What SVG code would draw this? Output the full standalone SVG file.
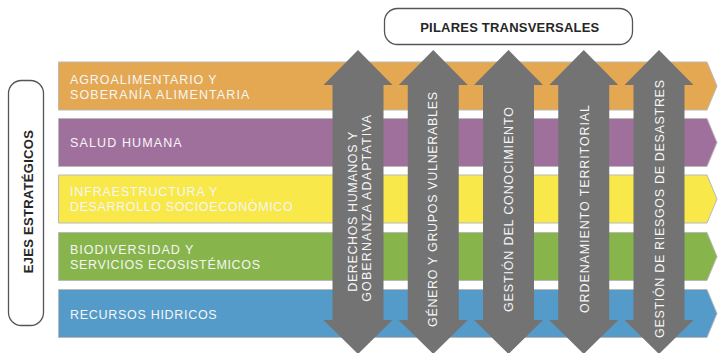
<svg xmlns="http://www.w3.org/2000/svg" width="718" height="353" viewBox="0 0 718 353">
<style>
  .band { stroke: #b9b9b9; stroke-width: 1; }
  .pillar { fill: #737373; }
  .wt { fill: #f6f6f6; font-family: "Liberation Sans", Arial, sans-serif; font-size: 12.5px; }
  .dk { fill: #262626; font-family: "Liberation Sans", Arial, sans-serif; font-size: 13px; font-weight: bold; }
  .box { fill: #ffffff; stroke: #555555; stroke-width: 1.3; }
</style>
<rect width="718" height="353" fill="#ffffff"/>

<g id="ejes-label">
  <rect class="box" x="8.5" y="80.5" width="35" height="245" rx="13" ry="13" stroke="#8a8a8a"/>
  <text class="dk" transform="translate(32.5,201.7) rotate(-90)" text-anchor="middle" textLength="143" lengthAdjust="spacing">EJES ESTRATÉGICOS</text>
</g>

<g id="pilares-label">
  <rect class="box" x="384.5" y="8.5" width="248" height="36" rx="13" ry="13"/>
  <text class="dk" x="509.7" y="32.3" text-anchor="middle" textLength="179" lengthAdjust="spacing">PILARES TRANSVERSALES</text>
</g>

<g id="band-agro">
  <path class="band" fill="#e4a853" d="M58.5,62 H707 L717,86 L707,110 H58.5 Z"/>
  <text class="wt" x="70" y="84.3" textLength="146.7" lengthAdjust="spacing">AGROALIMENTARIO Y</text>
  <text class="wt" x="70" y="99" textLength="179.3" lengthAdjust="spacing">SOBERANÍA ALIMENTARIA</text>
</g>
<g id="band-salud">
  <path class="band" fill="#a0709d" d="M58.5,118.5 H707 L717,142.5 L707,166.5 H58.5 Z"/>
  <text class="wt" x="70" y="146.7" textLength="111.7" lengthAdjust="spacing">SALUD HUMANA</text>
</g>
<g id="band-infra">
  <path class="band" fill="#f8e84a" d="M58.5,175 H707 L717,199 L707,223 H58.5 Z"/>
  <text class="wt" x="70" y="196" textLength="147.3" lengthAdjust="spacing">INFRAESTRUCTURA Y</text>
  <text class="wt" x="70" y="210.7" textLength="222.7" lengthAdjust="spacing">DESARROLLO SOCIOECONÓMICO</text>
</g>
<g id="band-bio">
  <path class="band" fill="#87b44b" d="M58.5,232.5 H707 L717,256.5 L707,280.5 H58.5 Z"/>
  <text class="wt" x="70" y="254.3" textLength="123.3" lengthAdjust="spacing">BIODIVERSIDAD Y</text>
  <text class="wt" x="70" y="268.7" textLength="190" lengthAdjust="spacing">SERVICIOS ECOSISTÉMICOS</text>
</g>
<g id="band-recursos">
  <path class="band" fill="#549bc9" d="M58.5,289.5 H707 L717,313.5 L707,337.5 H58.5 Z"/>
  <text class="wt" x="70" y="318.7" textLength="146.7" lengthAdjust="spacing">RECURSOS HIDRICOS</text>
</g>

<g id="pillar-derechos">
  <path class="pillar" d="M358,50 L392.5,85 L383.5,85 L383.5,320 L392.5,320 L358,354 L323.5,320 L332.5,320 L332.5,85 L323.5,85 Z"/>
  <text class="wt" transform="translate(357.3,211.7) rotate(-90)" text-anchor="middle" textLength="160" lengthAdjust="spacing">DERECHOS HUMANOS Y</text>
  <text class="wt" transform="translate(370.7,208.3) rotate(-90)" text-anchor="middle" textLength="187" lengthAdjust="spacing">GOBERNANZA ADAPTATIVA</text>
</g>
<g id="pillar-genero">
  <path class="pillar" d="M433.25,50 L467.75,85 L458.75,85 L458.75,320 L467.75,320 L433.25,354 L398.75,320 L407.75,320 L407.75,85 L398.75,85 Z"/>
  <text class="wt" transform="translate(437,209.5) rotate(-90)" text-anchor="middle" textLength="235" lengthAdjust="spacing">GÉNERO Y GRUPOS VULNERABLES</text>
</g>
<g id="pillar-conocimiento">
  <path class="pillar" d="M508.5,50 L543,85 L534,85 L534,320 L543,320 L508.5,354 L474,320 L483,320 L483,85 L474,85 Z"/>
  <text class="wt" transform="translate(513,209.5) rotate(-90)" text-anchor="middle" textLength="205" lengthAdjust="spacing">GESTIÓN DEL CONOCIMIENTO</text>
</g>
<g id="pillar-ordenamiento">
  <path class="pillar" d="M583.75,50 L618.25,85 L609.25,85 L609.25,320 L618.25,320 L583.75,354 L549.25,320 L558.25,320 L558.25,85 L549.25,85 Z"/>
  <text class="wt" transform="translate(589,209) rotate(-90)" text-anchor="middle" textLength="208" lengthAdjust="spacing">ORDENAMIENTO TERRITORIAL</text>
</g>
<g id="pillar-riesgos">
  <path class="pillar" d="M659,50 L693.5,85 L684.5,85 L684.5,320 L693.5,320 L659,354 L624.5,320 L633.5,320 L633.5,85 L624.5,85 Z"/>
  <text class="wt" transform="translate(664,209) rotate(-90)" text-anchor="middle" textLength="258" lengthAdjust="spacing">GESTIÓN DE RIESGOS DE DESASTRES</text>
</g>

<g id="connectors"></g>
</svg>
